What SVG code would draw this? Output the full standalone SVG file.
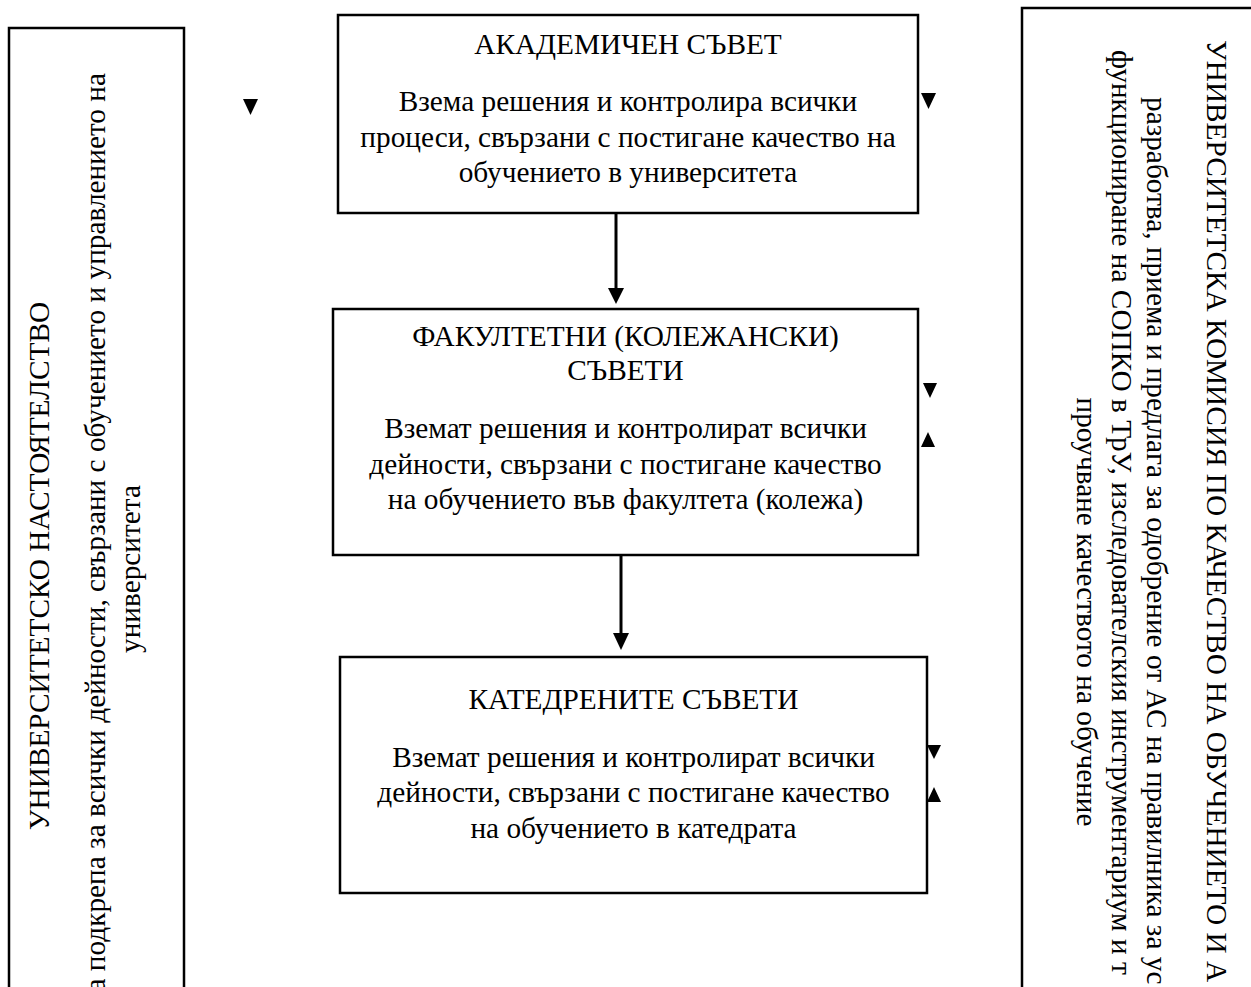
<svg xmlns="http://www.w3.org/2000/svg" width="1251" height="987" viewBox="0 0 1251 987">
<style>
.box{fill:#fff;stroke:#000;stroke-width:2.5}
.t{font-family:"Liberation Serif","Times New Roman",serif;font-size:29.3px;fill:#000}
.c{text-anchor:middle}
.ln{stroke:#000;stroke-width:3;fill:none}
.tri{fill:#000}
</style>
<rect width="1251" height="987" fill="#fff"/>
<g id="left-box">
<rect class="box" x="9" y="28" width="175" height="1000"/>
<text class="t c" transform="translate(49,566) rotate(-90)">УНИВЕРСИТЕТСКО НАСТОЯТЕЛСТВО</text>
<text class="t" text-anchor="end" transform="translate(105,73) rotate(-90)">а подкрепа за всички дейности, свързани с обучението и управлението на</text>
<text class="t c" transform="translate(140,569) rotate(-90)">университета</text>
</g>
<g id="right-box">
<rect class="box" x="1022" y="8" width="260" height="1020"/>
<text class="t" transform="translate(1207,40) rotate(90)">УНИВЕРСИТЕТСКА КОМИСИЯ ПО КАЧЕСТВО НА ОБУЧЕНИЕТО И А</text>
<text class="t" transform="translate(1147,97) rotate(90)">разработва, приема и предлага за одобрение от АС на правилника за ус</text>
<text class="t" transform="translate(1112,50) rotate(90)">функциониране на СОПКО в ТрУ, изследователския инструментариум и т</text>
<text class="t c" transform="translate(1077,612) rotate(90)">проучване качеството на обучение</text>
</g>
<g id="academic-council">
<rect class="box" x="338" y="15" width="580" height="198"/>
<text class="t c" x="628" y="54">АКАДЕМИЧЕН СЪВЕТ</text>
<text class="t c" x="628" y="111">Взема решения и контролира всички</text>
<text class="t c" x="628" y="147">процеси, свързани с постигане качество на</text>
<text class="t c" x="628" y="182">обучението в университета</text>
</g>
<g id="faculty-councils">
<rect class="box" x="333" y="309" width="585" height="246"/>
<text class="t c" x="625.5" y="346">ФАКУЛТЕТНИ (КОЛЕЖАНСКИ)</text>
<text class="t c" x="625.5" y="380">СЪВЕТИ</text>
<text class="t c" x="625.5" y="438">Вземат решения и контролират всички</text>
<text class="t c" x="625.5" y="474">дейности, свързани с постигане качество</text>
<text class="t c" x="625.5" y="509">на обучението във факултета (колежа)</text>
</g>
<g id="department-councils">
<rect class="box" x="340" y="657" width="587" height="236"/>
<text class="t c" x="633.5" y="709">КАТЕДРЕНИТЕ СЪВЕТИ</text>
<text class="t c" x="633.5" y="767">Вземат решения и контролират всички</text>
<text class="t c" x="633.5" y="802">дейности, свързани с постигане качество</text>
<text class="t c" x="633.5" y="838">на обучението в катедрата</text>
</g>
<g id="connectors">
<line class="ln" x1="616" y1="213" x2="616" y2="290"/>
<polygon class="tri" points="608,288 624,288 616,304"/>
<line class="ln" x1="621" y1="555" x2="621" y2="635"/>
<polygon class="tri" points="613,633 629,633 621,650"/>
<polygon class="tri" points="243,99 258,99 250.5,115"/>
<polygon class="tri" points="921,93 936,93 928.5,109"/>
<polygon class="tri" points="923,383 937,383 930,398"/>
<polygon class="tri" points="921,447 935,447 928,432"/>
<polygon class="tri" points="927,745 941,745 934,759"/>
<polygon class="tri" points="927,802 941,802 934,787"/>
</g>
</svg>
